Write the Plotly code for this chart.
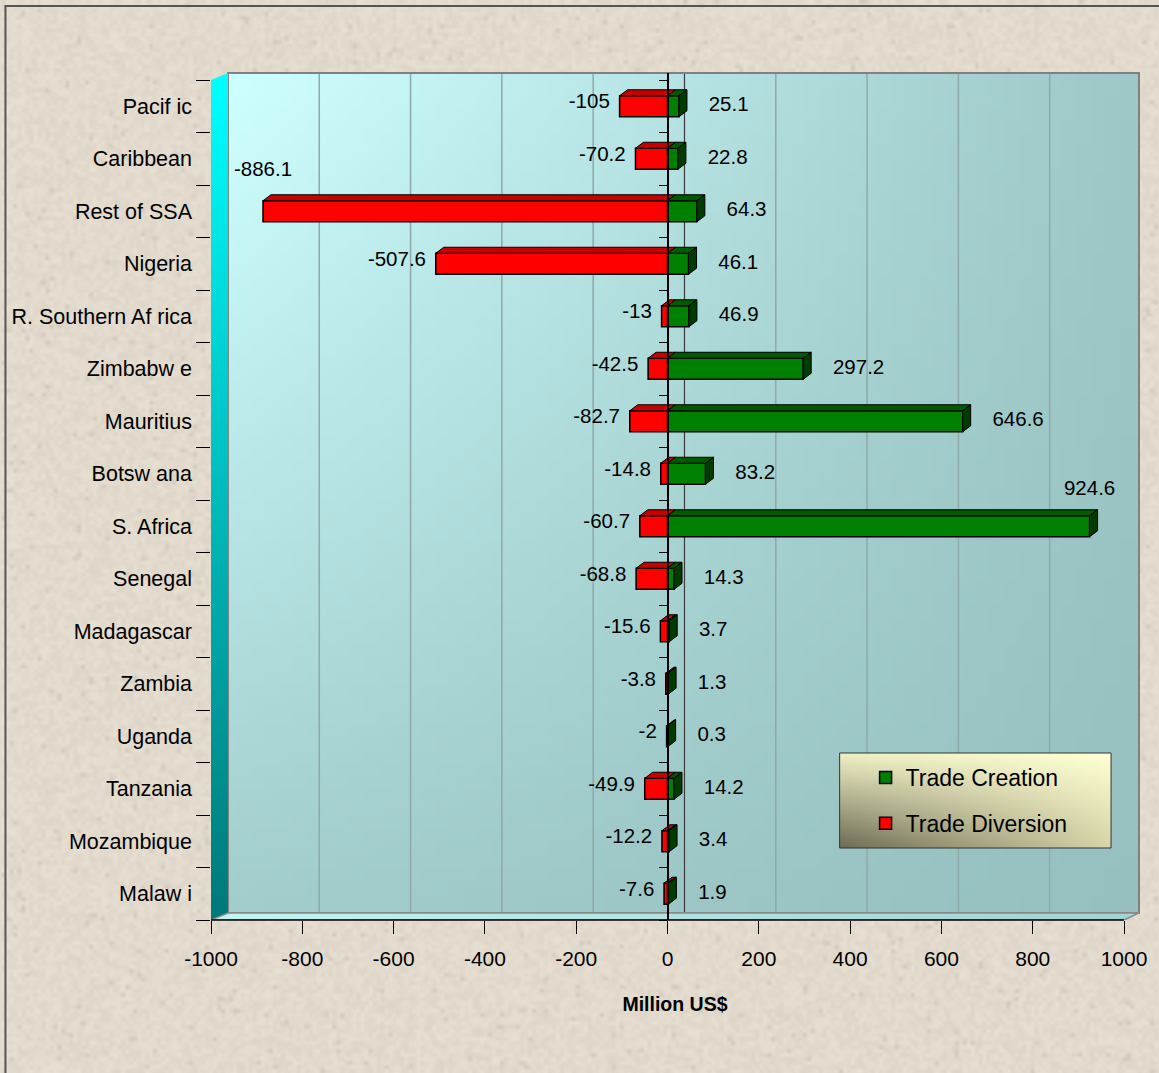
import base64, struct, zlib
import plotly.graph_objects as go

# ---------------- data ----------------
countries = ["Pacif ic", "Caribbean", "Rest of SSA", "Nigeria", "R. Southern Af rica",
             "Zimbabw e", "Mauritius", "Botsw ana", "S. Africa", "Senegal",
             "Madagascar", "Zambia", "Uganda", "Tanzania", "Mozambique", "Malaw i"]
trade_creation = [25.1, 22.8, 64.3, 46.1, 46.9, 297.2, 646.6, 83.2, 924.6, 14.3,
                  3.7, 1.3, 0.3, 14.2, 3.4, 1.9]
trade_diversion = [-105, -70.2, -886.1, -507.6, -13, -42.5, -82.7, -14.8, -60.7, -68.8,
                   -15.6, -3.8, -2, -49.9, -12.2, -7.6]
x_ticks = [-1000, -800, -600, -400, -200, 0, 200, 400, 600, 800, 1000]
x_title = "Million US$"
series_names = ["Trade Creation", "Trade Diversion"]

FONT = "Liberation Sans, Arial, sans-serif"
W, H = 1159, 1073
ML, MR, MT, MB = 210, 19, 73, 153
PW, PH = W - ML - MR, H - MT - MB          # plot area in px
XR = [-1000, -1000 + PW / (915 / 2000)]    # front axis: -1000..1000 over 915 px
PX = (XR[1] - XR[0]) / PW                   # data units per px
n = len(countries)
CAT = 52.5                                   # px per category
YR = [-0.5, -0.5 + PH / CAT]
idx = [n - 1 - k for k in range(n)]          # numeric position (bottom=0)

def px_x(p):   # figure px -> paper x
    return (p - ML) / PW
def px_y(p):   # figure px -> paper y
    return (MT + PH - p) / PH

# ---------------- png helper ----------------
def png_uri(w, h, fn):
    rows = []
    for j in range(h):
        row = bytearray([0])
        for i in range(w):
            row.extend(fn(i / (w - 1), j / (h - 1), i, j))
        rows.append(bytes(row))
    raw = b"".join(rows)
    def chunk(t, d):
        c = t + d
        return struct.pack(">I", len(d)) + c + struct.pack(">I", zlib.crc32(c) & 0xffffffff)
    data = (b"\x89PNG\r\n\x1a\n" + chunk(b"IHDR", struct.pack(">IIBBBBB", w, h, 8, 2, 0, 0, 0))
            + chunk(b"IDAT", zlib.compress(raw, 9)) + chunk(b"IEND", b""))
    return "data:image/png;base64," + base64.b64encode(data).decode()

def bilinear(tl, tr, bl, br):
    def f(u, v, i, j):
        return bytes(int(round((tl[c] * (1 - u) + tr[c] * u) * (1 - v) + (bl[c] * (1 - u) + br[c] * u) * v)) for c in range(3))
    return f

def texture(u, v, i, j):
    n_ = (i * 374761393 + j * 668265263) & 0xffffffff
    n_ = ((n_ ^ (n_ >> 13)) * 1274126177) & 0xffffffff
    hv = (n_ ^ (n_ >> 16)) & 0xff
    d = (hv - 128) / 128 * 6
    if hv > 250:
        d -= 22
    base = (227, 219, 205)
    return bytes(max(0, min(255, int(b + d))) for b in base)

bg_img = png_uri(290, 268, texture)
wall_img = png_uri(64, 64, bilinear((206, 255, 255), (158, 199, 199), (163, 205, 205), (150, 192, 192)))
leg_img = png_uri(48, 24, bilinear((238, 238, 196), (255, 255, 212), (112, 110, 86), (214, 212, 168)))

fig = go.Figure()

# ---------------- bars (front faces) ----------------
fig.add_trace(go.Bar(y=countries, x=trade_creation, orientation="h", name=series_names[0],
                     marker=dict(color="#008000", line=dict(color="black", width=1.5)),
                     width=0.4, legendgroup="a", hoverinfo="skip"))
fig.add_trace(go.Bar(y=countries, x=trade_diversion, orientation="h", name=series_names[1],
                     marker=dict(color="#FF0000", line=dict(color="black", width=1.5)),
                     width=0.4, legendgroup="b", hoverinfo="skip"))

# ---------------- 3D faces ----------------
DX = 8 * PX
DY = 6 / CAT
HB = 0.2
def faces(vals, kind):
    xs, ys = [], []
    for v, yc in zip(vals, idx):
        t = yc + HB
        if kind == "top":
            xs += [0, v, v + DX, DX, 0, None]
            ys += [t, t, t + DY, t + DY, t, None]
        else:
            b = yc - HB
            xs += [v, v + DX, v + DX, v, v, None]
            ys += [b, b + DY, t + DY, t, b, None]
    return xs, ys

for vals, kind, col in [(trade_diversion, "top", "#C80000"), (trade_creation, "top", "#005A00"),
                        (trade_creation, "side", "#003C00")]:
    xs, ys = faces(vals, kind)
    fig.add_trace(go.Scatter(x=xs, y=ys, yaxis="y2", mode="lines", fill="toself", fillcolor=col,
                             line=dict(color="black", width=1), showlegend=False, hoverinfo="skip"))

# ---------------- data labels ----------------
pos_tp = ["top center" if v > 900 else "middle right" for v in trade_creation]
pos_sz = [40 if v > 900 else 46 for v in trade_creation]
neg_tp = ["top center" if v < -800 else "middle left" for v in trade_diversion]
neg_sz = [42 if v < -800 else 14 for v in trade_diversion]
fig.add_trace(go.Scatter(x=trade_creation, y=idx, yaxis="y2", mode="markers+text",
                         text=[f"{v:g}" for v in trade_creation], textposition=pos_tp,
                         marker=dict(size=pos_sz, opacity=0), textfont=dict(size=20.5, color="black", family=FONT),
                         showlegend=False, hoverinfo="skip", cliponaxis=False))
fig.add_trace(go.Scatter(x=trade_diversion, y=[i + 0.06 for i in idx], yaxis="y2", mode="markers+text",
                         text=[f"{v:g}" for v in trade_diversion], textposition=neg_tp,
                         marker=dict(size=neg_sz, opacity=0), textfont=dict(size=20.5, color="black", family=FONT),
                         showlegend=False, hoverinfo="skip", cliponaxis=False))

# ---------------- walls (paper-like overlay axes) ----------------
xw = px_x(227)
fig.add_trace(go.Scatter(x=[0, 0, xw, xw, 0], y=[0, px_y(80), 1, px_y(913), 0],
                         xaxis="x2", yaxis="y3", mode="lines", fill="toself",
                         fillgradient=dict(type="vertical", colorscale=[[0, "#007878"], [1, "#00FFFF"]]),
                         line=dict(color="rgba(0,0,0,0)", width=0), showlegend=False, hoverinfo="skip"))
fig.add_trace(go.Scatter(x=[0, px_x(1125), 1, xw, 0], y=[0, 0, px_y(913), px_y(913), 0],
                         xaxis="x2", yaxis="y3", mode="lines", fill="toself",
                         fillgradient=dict(type="horizontal", colorscale=[[0, "#C2F4F4"], [1, "#A2D2D2"]]),
                         line=dict(color="#8A8A8A", width=1.5), showlegend=False, hoverinfo="skip"))
# zero axis carrier
fig.add_trace(go.Scatter(x=[0] * n, y=countries, yaxis="y4", mode="markers",
                         marker=dict(opacity=0, size=1), showlegend=False, hoverinfo="skip"))

# ---------------- shapes ----------------
shapes = []
for t in x_ticks[1:]:
    shapes.append(dict(type="line", xref="x", yref="paper", x0=t + 17 * PX, x1=t + 17 * PX,
                       y0=px_y(913), y1=1, layer="below",
                       line=dict(color="#3C3C3C" if t == 0 else "#8FA8A8", width=1.2 if t == 0 else 1.5)))
shapes.append(dict(type="rect", xref="paper", yref="paper", x0=xw, x1=1, y0=px_y(913), y1=1,
                   layer="below", line=dict(color="#808080", width=2)))
shapes.append(dict(type="line", xref="x", yref="paper", x0=-1000, x1=1000, y0=0, y1=0,
                   line=dict(color="black", width=1.5)))
# figure border
shapes.append(dict(type="path", xref="paper", yref="paper",
                   path=f"M {px_x(4)},{px_y(1090)} L {px_x(4)},{px_y(6)} L {px_x(1170)},{px_y(6)}",
                   line=dict(color="#555555", width=2)))
# legend box border
shapes.append(dict(type="rect", xref="paper", yref="paper", x0=px_x(840), x1=px_x(1112),
                   y0=px_y(848), y1=px_y(753), layer="above", line=dict(color="#333333", width=1)))

images = [
    dict(source=bg_img, xref="paper", yref="paper", x=px_x(0), y=px_y(0),
         sizex=px_x(W) - px_x(0), sizey=px_y(0) - px_y(H), sizing="stretch", layer="below"),
    dict(source=wall_img, xref="paper", yref="paper", x=xw, y=1,
         sizex=1 - xw, sizey=1 - px_y(913), sizing="stretch", layer="below"),
    dict(source=leg_img, xref="paper", yref="paper", x=px_x(840), y=px_y(753),
         sizex=px_x(1112) - px_x(840), sizey=px_y(753) - px_y(848), sizing="stretch", layer="above"),
]

fig.update_layout(
    width=W, height=H, margin=dict(l=ML, r=MR, t=MT, b=MB),
    paper_bgcolor="#E3DBCD", plot_bgcolor="rgba(0,0,0,0)",
    barmode="overlay", bargap=0.6,
    font=dict(family=FONT, size=20, color="black"),
    shapes=shapes, images=images,
    xaxis=dict(range=XR, tickvals=x_ticks, ticktext=[str(t) for t in x_ticks],
               ticks="outside", ticklen=13, tickcolor="black", tickwidth=1.2, ticklabelstandoff=7,
               showgrid=False, zeroline=False, showline=False,
               tickfont=dict(size=21, family=FONT),
               title=dict(text=f"<b>{x_title}</b>", font=dict(size=19.5, family=FONT), standoff=28)),
    yaxis=dict(type="category", categoryorder="array", categoryarray=countries[::-1], range=YR,
               ticks="outside", ticklen=14, tickcolor="black", tickwidth=1.2, tickson="boundaries",
               ticklabelstandoff=18,
               showgrid=False, zeroline=False, showline=False, tickfont=dict(size=21.5, family=FONT)),
    yaxis2=dict(overlaying="y", range=YR, visible=False),
    xaxis2=dict(overlaying="x", range=[0, 1], visible=False),
    yaxis3=dict(overlaying="y", range=[0, 1], visible=False),
    yaxis4=dict(type="category", categoryorder="array", categoryarray=countries[::-1], range=YR,
                overlaying="y", anchor="free", position=px_x(667.5), side="left",
                ticks="outside", ticklen=8, tickcolor="black", tickson="boundaries",
                showticklabels=False, showgrid=False, zeroline=False,
                showline=True, linecolor="black", linewidth=1.5),
    legend=dict(x=px_x(866), y=px_y(756), xanchor="left", yanchor="top",
                bgcolor="rgba(0,0,0,0)", borderwidth=0, font=dict(size=23, family=FONT),
                tracegroupgap=13, traceorder="grouped"),
    showlegend=True,
)

fig.write_html("out.html")
